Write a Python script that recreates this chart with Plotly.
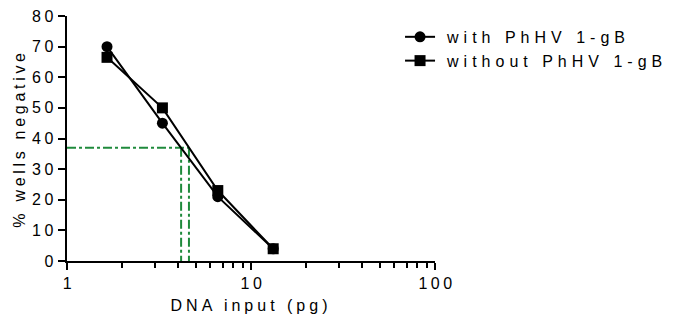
import plotly.graph_objects as go

dna_input = [1.65, 3.3, 6.6, 13.2]
with_gb = [70, 45, 21, 4]
without_gb = [66.5, 50, 23, 4]

cutoff_y = 37
cutoff_x = [4.17, 4.6]

names = ["with PhHV 1-gB", "without PhHV 1-gB"]
x_title = "DNA input (pg)"
y_title = "% wells negative"
x_tickvals = [1, 10, 100]
x_ticktext = ["1", "10", "100"]

FONT = "Liberation Sans, Arial, sans-serif"
GREEN = "#1f8a3c"

fig = go.Figure()

fig.add_trace(go.Scatter(x=[1, cutoff_x[1]], y=[cutoff_y, cutoff_y], mode="lines",
                         line=dict(color=GREEN, width=2, dash="dashdot"),
                         showlegend=False, hoverinfo="skip"))
for cx in cutoff_x:
    fig.add_trace(go.Scatter(x=[cx, cx], y=[cutoff_y, 0], mode="lines",
                             line=dict(color=GREEN, width=2, dash="dashdot"),
                             showlegend=False, hoverinfo="skip"))

fig.add_trace(go.Scatter(x=dna_input, y=with_gb, name=names[0], mode="lines+markers",
                         line=dict(color="black", width=2),
                         marker=dict(symbol="circle", size=11, color="black")))
fig.add_trace(go.Scatter(x=dna_input, y=without_gb, name=names[1], mode="lines+markers",
                         line=dict(color="black", width=2),
                         marker=dict(symbol="square", size=11, color="black")))

fig.update_layout(
    width=679, height=325,
    margin=dict(l=67, r=244, t=16, b=64),
    plot_bgcolor="white", paper_bgcolor="white",
    font=dict(family=FONT, size=15, color="black"),
    legend=dict(x=0.905, y=0.984, xanchor="left", yanchor="top",
                font=dict(family=FONT, size=16, color="black"),
                bgcolor="rgba(0,0,0,0)", itemwidth=30, tracegroupgap=0),
    showlegend=True,
)

fig.update_xaxes(
    type="log", range=[0, 2], automargin=False,
    tickvals=x_tickvals, ticktext=x_ticktext,
    showline=True, linecolor="black", linewidth=2,
    ticks="outside", ticklen=7, tickwidth=2, tickcolor="black",
    showgrid=False, zeroline=False, ticklabelshift=2,
    tickfont=dict(family=FONT, size=16),
    title=dict(text=x_title, font=dict(family=FONT, size=16), standoff=9),
    minor=dict(ticks="outside", ticklen=5, tickwidth=2, tickcolor="black",
               tickvals=[2, 3, 4, 5, 6, 7, 8, 9, 20, 30, 40, 50, 60, 70, 80, 90],
               showgrid=False),
)
fig.update_yaxes(
    range=[0, 80], dtick=10, automargin=False,
    showline=True, linecolor="black", linewidth=2,
    ticks="outside", ticklen=7, tickwidth=2, tickcolor="black",
    showgrid=False, zeroline=False, ticklabelstandoff=-2,
    tickfont=dict(family=FONT, size=16),
    title=dict(text=y_title, font=dict(family=FONT, size=16), standoff=9),
)

post = """
document.body.style.margin = '0';
var s = document.createElement('style');
s.innerHTML = '.xtick text, .ytick text { letter-spacing: 3.5px; }'
  + ' text.xtitle { letter-spacing: 4px; }'
  + ' text.ytitle { letter-spacing: 3.7px; }'
  + ' text.legendtext { letter-spacing: 5px; transform: translateX(7px); }';
document.head.appendChild(s);
var gd = document.getElementById('{plot_id}');
Plotly.relayout(gd, {'legend.font.family': 'Liberation Sans, Arial, Helvetica, sans-serif'});
"""
fig.write_html("out.html", post_script=post, config={"displayModeBar": False})
